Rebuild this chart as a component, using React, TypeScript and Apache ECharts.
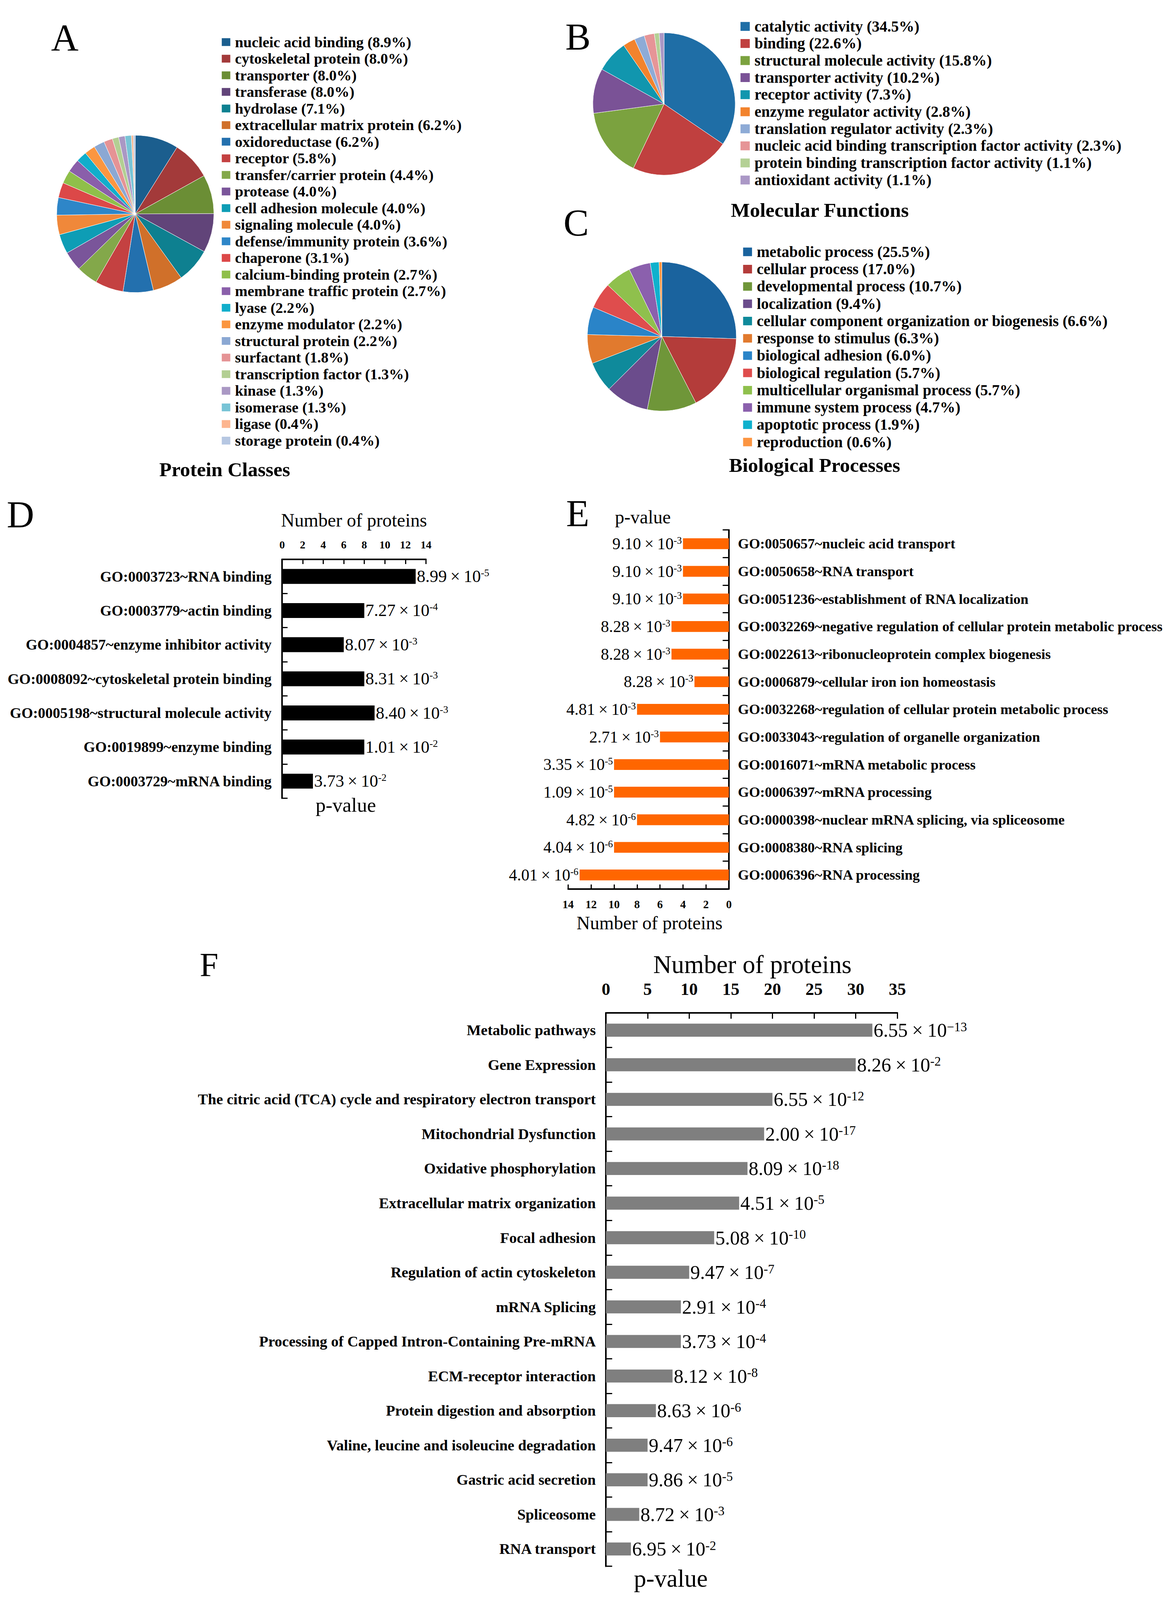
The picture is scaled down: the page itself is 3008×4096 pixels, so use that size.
import React, { useEffect, useRef } from "react";
import * as echarts from "echarts";

const W = 3008;
const H = 4096;
const S = 0.954;
const s = (v: number) => v * S;
const SERIF = '"Liberation Serif", "Times New Roman", Times, serif';

// ---------- Panel A : Protein Classes ----------
const classNames = [
  "nucleic acid binding", "cytoskeletal protein", "transporter", "transferase", "hydrolase",
  "extracellular matrix protein", "oxidoreductase", "receptor", "transfer/carrier protein", "protease",
  "cell adhesion molecule", "signaling molecule", "defense/immunity protein", "chaperone",
  "calcium-binding protein", "membrane traffic protein", "lyase", "enzyme modulator",
  "structural protein", "surfactant", "transcription factor", "kinase", "isomerase", "ligase",
  "storage protein",
];
const classPct = [8.9, 8.0, 8.0, 8.0, 7.1, 6.2, 6.2, 5.8, 4.4, 4.0, 4.0, 4.0, 3.6, 3.1, 2.7, 2.7, 2.2, 2.2, 2.2, 1.8, 1.3, 1.3, 1.3, 0.4, 0.4];
const classColors = [
  "#1B5E8E", "#A33A3A", "#6B8E35", "#614479", "#0E8090", "#D0702A", "#2370AE", "#C44141",
  "#83A84A", "#7A559A", "#0E9DB5", "#F0883A", "#2E86C8", "#DC4848", "#8FBF4A", "#8A5FAA",
  "#11AECB", "#FB9640", "#8BA8D3", "#E59395", "#B3CF93", "#AA98C4", "#78C4D6", "#FDB58F", "#B6C7E2",
];

// ---------- Panel B : Molecular Functions ----------
const mfNames = [
  "catalytic activity", "binding", "structural molecule activity", "transporter activity",
  "receptor activity", "enzyme regulator activity", "translation regulator activity",
  "nucleic acid binding transcription factor activity", "protein binding transcription factor activity",
  "antioxidant activity",
];
const mfPct = [34.5, 22.6, 15.8, 10.2, 7.3, 2.8, 2.3, 2.3, 1.1, 1.1];
const mfColors = ["#1F6EA6", "#C0403F", "#7BA23F", "#7A5296", "#1196AE", "#F2832D", "#8EABD6", "#E69597", "#B4D095", "#AB98C6"];

// ---------- Panel C : Biological Processes ----------
const bpNames = [
  "metabolic process", "cellular process", "developmental process", "localization",
  "cellular component organization or biogenesis", "response to stimulus", "biological adhesion",
  "biological regulation", "multicellular organismal process", "immune system process",
  "apoptotic process", "reproduction",
];
const bpPct = [25.5, 17.0, 10.7, 9.4, 6.6, 6.3, 6.0, 5.7, 5.7, 4.7, 1.9, 0.6];
const bpColors = ["#1A639E", "#B43C3A", "#6F9639", "#6B4C8C", "#0F8A9B", "#E17A2E", "#2A84C8", "#DF4D4D", "#8FC04D", "#8B60AD", "#0FB1CD", "#FC9541"];

// ---------- Panel D : GO molecular function enrichment ----------
const dTerms = [
  "GO:0003723~RNA binding", "GO:0003779~actin binding", "GO:0004857~enzyme inhibitor activity",
  "GO:0008092~cytoskeletal protein binding", "GO:0005198~structural molecule activity",
  "GO:0019899~enzyme binding", "GO:0003729~mRNA binding",
];
const dCounts = [13, 8, 6, 8, 9, 8, 3];
const dPMant = ["8.99", "7.27", "8.07", "8.31", "8.40", "1.01", "3.73"];
const dPExp = ["-5", "-4", "-3", "-3", "-3", "-2", "-2"];

// ---------- Panel E : GO biological process enrichment ----------
const eTerms = [
  "GO:0050657~nucleic acid transport", "GO:0050658~RNA transport",
  "GO:0051236~establishment of RNA localization",
  "GO:0032269~negative regulation of cellular protein metabolic process",
  "GO:0022613~ribonucleoprotein complex biogenesis", "GO:0006879~cellular iron ion homeostasis",
  "GO:0032268~regulation of cellular protein metabolic process",
  "GO:0033043~regulation of organelle organization", "GO:0016071~mRNA metabolic process",
  "GO:0006397~mRNA processing", "GO:0000398~nuclear mRNA splicing, via spliceosome",
  "GO:0008380~RNA splicing", "GO:0006396~RNA processing",
];
const eCounts = [4, 4, 4, 5, 5, 3, 8, 6, 10, 10, 8, 10, 13];
const ePMant = ["9.10", "9.10", "9.10", "8.28", "8.28", "8.28", "4.81", "2.71", "3.35", "1.09", "4.82", "4.04", "4.01"];
const ePExp = ["-3", "-3", "-3", "-3", "-3", "-3", "-3", "-3", "-5", "-5", "-6", "-6", "-6"];

// ---------- Panel F : pathways ----------
const fTerms = [
  "Metabolic pathways", "Gene Expression",
  "The citric acid (TCA) cycle and respiratory electron transport", "Mitochondrial Dysfunction",
  "Oxidative phosphorylation", "Extracellular matrix organization", "Focal adhesion",
  "Regulation of actin cytoskeleton", "mRNA Splicing", "Processing of Capped Intron-Containing Pre-mRNA",
  "ECM-receptor interaction", "Protein digestion and absorption",
  "Valine, leucine and isoleucine degradation", "Gastric acid secretion", "Spliceosome", "RNA transport",
];
const fCounts = [32, 30, 20, 19, 17, 16, 13, 10, 9, 9, 8, 6, 5, 5, 4, 3];
const fPMant = ["6.55", "8.26", "6.55", "2.00", "8.09", "4.51", "5.08", "9.47", "2.91", "3.73", "8.12", "8.63", "9.47", "9.86", "8.72", "6.95"];
const fPExp = ["\u221213", "-2", "-12", "-17", "-18", "-5", "-10", "-7", "-4", "-4", "-8", "-6", "-6", "-5", "-3", "-2"];

function pieData(names: string[], vals: number[], colors: string[]) {
  return names.map((n, i) => ({ name: n, value: vals[i], itemStyle: { color: colors[i] } }));
}

function buildOption() {
  const pctMap: Record<string, number> = {};
  classNames.forEach((n, i) => (pctMap[n] = classPct[i]));
  mfNames.forEach((n, i) => (pctMap[n] = mfPct[i]));
  bpNames.forEach((n, i) => (pctMap[n] = bpPct[i]));

  const legend = (names: string[], left: number, firstCenter: number, iw: number, ih: number, pitch: number, fs: number) => ({
    data: names,
    orient: "vertical",
    left: s(left),
    top: s(firstCenter) - fs / 2 + 2.5,
    padding: 0,
    itemWidth: s(iw),
    itemHeight: s(ih),
    itemGap: s(pitch) - fs - 0.7,
    icon: "rect",
    selectedMode: false,
    formatter: (name: string) => `${name} (${pctMap[name].toFixed(1)}%)`,
    textStyle: {
      fontFamily: SERIF,
      fontWeight: "bold",
      fontSize: fs,
      color: "#000",
      padding: [0, 0, 0, 6],
    },
  });

  const pie = (names: string[], vals: number[], colors: string[], cx: number, cy: number, r: number) => ({
    type: "pie",
    center: [s(cx), s(cy)],
    radius: s(r),
    startAngle: 90,
    clockwise: true,
    label: { show: false },
    labelLine: { show: false },
    silent: true,
    itemStyle: { borderColor: "#fff", borderWidth: 1 },
    data: pieData(names, vals, colors),
  });

  const valueLabel = (mant: string[], exp: string[], size: number, pos: string, pad: number, supRatio: number) => ({
    show: true,
    position: pos,
    distance: 3,
    formatter: (p: any) => `{m|${mant[p.dataIndex]}}{x|\u00D7}{m|10}{e|${exp[p.dataIndex]}}`,
    rich: {
      m: { fontFamily: SERIF, fontSize: size, color: "#000", lineHeight: size },
      x: { fontFamily: SERIF, fontSize: size, color: "#000", lineHeight: size, padding: [0, pad, 0, pad] },
      e: { fontFamily: SERIF, fontSize: Math.round(size * supRatio), color: "#000", verticalAlign: "top", lineHeight: Math.round(size * supRatio) },
    },
  });

  const axLine = { show: true, onZero: false, lineStyle: { color: "#000", width: 4 } };
  const tick = (len: number) => ({ show: true, inside: true, length: len, lineStyle: { color: "#000", width: 3 } });
  const boldLabel = (fs: number, margin: number) => ({
    fontFamily: SERIF, fontWeight: "bold", fontSize: fs, color: "#000", margin,
  });

  const txt = (text: string, x: number, y: number, size: number, weight = "normal", align = "left") => ({
    type: "text",
    x: s(x),
    y: s(y),
    silent: true,
    style: {
      text,
      fontFamily: SERIF,
      fontSize: s(size),
      fontWeight: weight,
      fill: "#000",
      align,
      verticalAlign: "middle",
      textAlign: align,
      textVerticalAlign: "middle",
    },
  });

  return {
    animation: false,
    backgroundColor: "#fff",
    legend: [
      legend(classNames, 593, 110, 25, 23, 44.77, 38.5),
      legend(mfNames, 1985, 68, 27, 26, 46, 39.5),
      legend(bpNames, 1992, 673, 26, 25, 46.6, 39.5),
    ],
    grid: [
      { left: s(757), top: s(1501), width: s(386), height: s(641) },
      { left: s(1524.5), top: s(1422), width: s(431.5), height: s(963) },
      { left: s(1626), top: s(2718), width: s(782), height: s(1485) },
    ],
    xAxis: [
      {
        gridIndex: 0, type: "value", position: "top", min: 0, max: 14, interval: 2,
        axisLine: axLine, axisTick: tick(12), splitLine: { show: false },
        axisLabel: boldLabel(28, 23),
      },
      {
        gridIndex: 1, type: "value", position: "bottom", inverse: true, min: 0, max: 14, interval: 2,
        axisLine: axLine, axisTick: tick(11), splitLine: { show: false },
        axisLabel: boldLabel(29, 25),
      },
      {
        gridIndex: 2, type: "value", position: "top", min: 0, max: 35, interval: 5,
        axisLine: axLine, axisTick: tick(15), splitLine: { show: false },
        axisLabel: boldLabel(44, 38),
      },
    ],
    yAxis: [
      {
        gridIndex: 0, type: "category", data: dTerms, inverse: true,
        axisLine: axLine, axisTick: tick(14), axisLabel: boldLabel(38, 27),
      },
      {
        gridIndex: 1, type: "category", data: eTerms, inverse: true, position: "right",
        axisLine: axLine, axisTick: tick(16), axisLabel: boldLabel(36.5, 23),
      },
      {
        gridIndex: 2, type: "category", data: fTerms, inverse: true,
        axisLine: axLine, axisTick: tick(16), axisLabel: boldLabel(38.5, 26),
      },
    ],
    series: [
      pie(classNames, classPct, classColors, 363, 574, 211),
      pie(mfNames, mfPct, mfColors, 1782, 279, 191),
      pie(bpNames, bpPct, bpColors, 1776, 903, 200),
      {
        type: "bar", xAxisIndex: 0, yAxisIndex: 0, data: dCounts, barWidth: s(40),
        itemStyle: { color: "#000" }, silent: true,
        label: valueLabel(dPMant, dPExp, 44, "right", 9, 0.6),
      },
      {
        type: "bar", xAxisIndex: 1, yAxisIndex: 1, data: eCounts, barWidth: s(29),
        itemStyle: { color: "#FF6600" }, silent: true,
        label: valueLabel(ePMant, ePExp, 42, "left", 9, 0.6),
      },
      {
        type: "bar", xAxisIndex: 2, yAxisIndex: 2, data: fCounts, barWidth: s(35),
        itemStyle: { color: "#7F7F7F" }, silent: true,
        label: valueLabel(fPMant, fPExp, 50, "right", 11, 0.65),
      },
    ],
    graphic: [
      txt("A", 137, 101, 102),
      txt("B", 1517, 99, 102),
      txt("C", 1512, 597, 102),
      txt("D", 18, 1380, 102),
      txt("E", 1519, 1377, 102),
      txt("F", 536, 2589, 90),
      txt("Protein Classes", 603, 1259, 54, "bold", "center"),
      txt("Molecular Functions", 2200, 563, 54, "bold", "center"),
      txt("Biological Processes", 2186, 1248, 54, "bold", "center"),
      txt("Number of proteins", 950, 1396, 50, "normal", "center"),
      txt("p-value", 928, 2160, 54, "normal", "center"),
      txt("p-value", 1725, 1387, 50, "normal", "center"),
      txt("Number of proteins", 1743, 2476, 50, "normal", "center"),
      txt("Number of proteins", 2019, 2588, 68, "normal", "center"),
      txt("p-value", 1800, 4236, 66, "normal", "center"),
    ],
  };
}

export default function App() {
  const ref = useRef<HTMLDivElement>(null);
  useEffect(() => {
    document.body.style.margin = "0";
    const chart = echarts.init(ref.current as HTMLDivElement, null, { renderer: "svg", width: W, height: H });
    chart.setOption(buildOption() as any);
    return () => chart.dispose();
  }, []);
  return (
    <div
      ref={ref}
      style={{ position: "absolute", left: 0, top: 0, width: W, height: H, background: "#fff" }}
    />
  );
}
